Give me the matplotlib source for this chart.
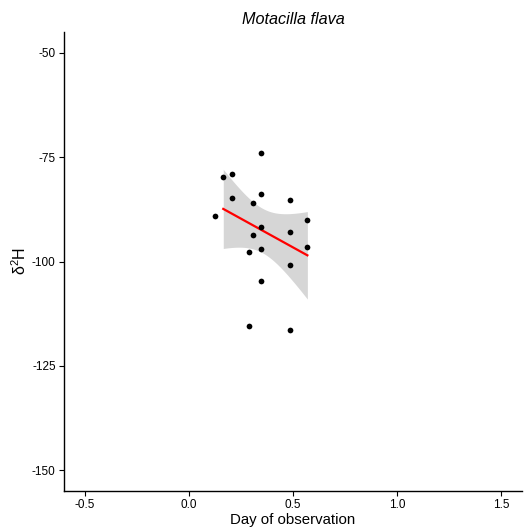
import numpy as np
import matplotlib
matplotlib.use("Agg")
import matplotlib.pyplot as plt

plt.rcParams["font.family"] = ["Liberation Sans", "DejaVu Sans"]
plt.rcParams["mathtext.fontset"] = "custom"
plt.rcParams["mathtext.rm"] = "Liberation Sans"
plt.rcParams["axes.unicode_minus"] = False

day = [0.346, 0.165, 0.205, 0.205, 0.306, 0.346, 0.487, 0.125, 0.569, 0.346,
       0.487, 0.306, 0.287, 0.346, 0.569, 0.487, 0.346, 0.287, 0.487]
d2h = [-74.1, -79.8, -79.0, -84.9, -86.1, -83.9, -85.2, -89.0, -90.1, -91.8,
       -92.9, -93.6, -97.7, -96.9, -96.6, -100.8, -104.6, -115.4, -116.3]
# x span over which the smoother is drawn in the reference
smooth_span = [0.165, 0.569]

x = np.array(day)
y = np.array(d2h)

# linear fit with 95% confidence band (like geom_smooth(method="lm"))
n = len(x)
b1, b0 = np.polyfit(x, y, 1)
resid = y - (b0 + b1 * x)
s = np.sqrt((resid ** 2).sum() / (n - 2))
xm = x.mean()
sxx = ((x - xm) ** 2).sum()
t975 = 2.1098  # t quantile, df = 17

xs = np.linspace(smooth_span[0], smooth_span[1], 80)
ys = b0 + b1 * xs
se = s * np.sqrt(1.0 / n + (xs - xm) ** 2 / sxx)

fig = plt.figure(figsize=(5.26, 5.29), dpi=100)
ax = fig.add_axes([64 / 526, 38 / 529, 458 / 526, 459 / 529])

ax.fill_between(xs, ys - t975 * se, ys + t975 * se, color="#999999", alpha=0.4,
                linewidth=0)
ax.plot(xs, ys, color="red", linewidth=1.6)
ax.scatter(x, y, s=17, color="black", zorder=3, linewidths=0)

ax.set_xlim(-0.6, 1.6)
ax.set_ylim(-155, -45)
ax.set_xticks([-0.5, 0.0, 0.5, 1.0, 1.5])
ax.set_xticklabels(["-0.5", "0.0", "0.5", "1.0", "1.5"])
ax.set_yticks([-150, -125, -100, -75, -50])

for side in ["top", "right"]:
    ax.spines[side].set_visible(False)
for side in ["left", "bottom"]:
    ax.spines[side].set_linewidth(1.0)
ax.tick_params(axis="both", direction="out", length=3.5, width=0.8,
               labelsize=8.5, colors="black", pad=2.5)

ax.set_xlabel("Day of observation", fontsize=10.8, labelpad=1)
ax.set_ylabel("δ$^{2}$H", fontsize=11.5, labelpad=2)
ax.set_title("Motacilla flava", fontsize=11.7, style="italic", pad=6)

fig.savefig("out.png", dpi=100)
